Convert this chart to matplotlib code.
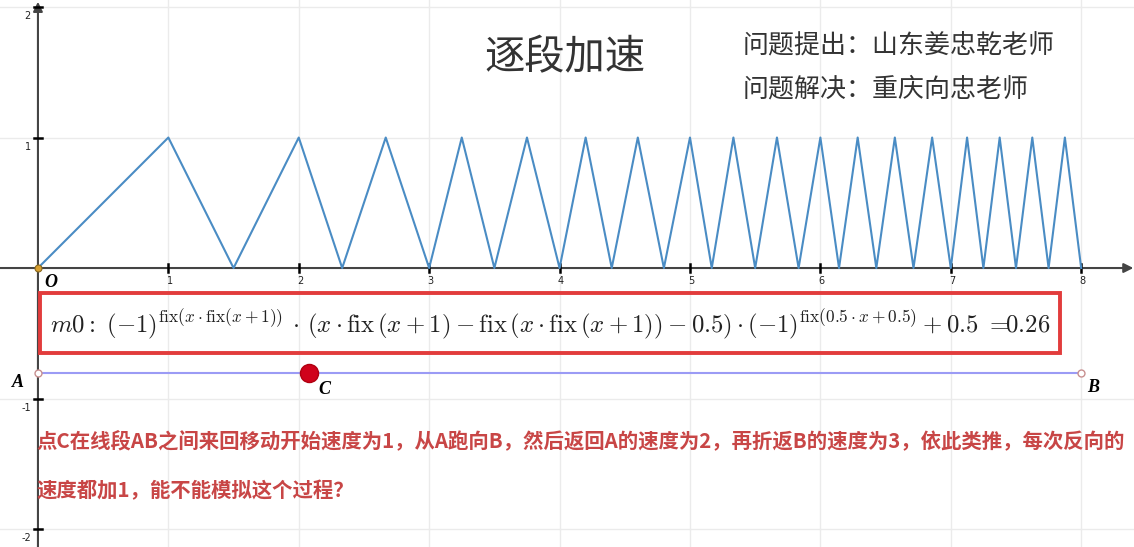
import numpy as np
import matplotlib
matplotlib.use("Agg")
import matplotlib.pyplot as plt
from matplotlib.patches import Rectangle

plt.rcParams['font.family'] = ['Noto Sans CJK SC', 'DejaVu Sans']
plt.rcParams['mathtext.fontset'] = 'cm'

# vertices of the zig-zag: C bouncing between 0 and 1, speed +1 each leg
wave_x = [0, 1, 1.5, 2, 2.333, 2.667, 3, 3.25, 3.5, 3.75, 4,
          4.2, 4.4, 4.6, 4.8, 5, 5.167, 5.333, 5.5, 5.667, 5.833, 6,
          6.143, 6.286, 6.429, 6.571, 6.714, 6.857, 7,
          7.125, 7.25, 7.375, 7.5, 7.625, 7.75, 7.875, 8]
wave_y = [0, 1, 0, 1, 0, 1, 0, 1, 0, 1, 0,
          1, 0, 1, 0, 1, 0, 1, 0, 1, 0, 1,
          0, 1, 0, 1, 0, 1, 0,
          1, 0, 1, 0, 1, 0, 1, 0]

x_ticks = [1, 2, 3, 4, 5, 6, 7, 8]
y_ticks = [-2, -1, 1, 2]

seg_A = (0, -0.805)
seg_B = (8, -0.805)
m0 = 0.26

title = "逐段加速"
credits = ["问题提出：山东姜忠乾老师", "问题解决：重庆向忠老师"]
question = ["点C在线段AB之间来回移动开始速度为1，从A跑向B，然后返回A的速度为2，再折返B的速度为3，依此类推，每次反向的",
            "速度都加1，能不能模拟这个过程？"]

fig = plt.figure(figsize=(11.34, 5.47), dpi=100)
ax = fig.add_axes([0, 0, 1, 1])
ax.set_xlim(-0.291, 8.405)
ax.set_ylim(-2.138, 2.054)
ax.axis('off')

# grid
for gx in x_ticks:
    ax.axvline(gx, color='#ebebeb', lw=1, zorder=0)
for gy in y_ticks:
    ax.axhline(gy, color='#ebebeb', lw=1, zorder=0)

# axes with arrows
ax.annotate('', xy=(8.400, 0), xytext=(-0.291, 0),
            arrowprops=dict(arrowstyle='-|>', color='#444444', lw=1.5,
                            mutation_scale=14, shrinkA=0, shrinkB=0), zorder=2)
ax.annotate('', xy=(0, 2.040), xytext=(0, -2.138),
            arrowprops=dict(arrowstyle='-|>', color='#444444', lw=1.5,
                            mutation_scale=14, shrinkA=0, shrinkB=0), zorder=2)

# tick marks and labels
for t in x_ticks:
    ax.plot([t, t], [-0.03, 0.03], color='black', lw=1.8, zorder=3)
    ax.text(t + 0.01, -0.10, str(t), fontsize=7, ha='center', va='center',
            color='#222222', family='DejaVu Sans')
for t in y_ticks:
    ax.plot([-0.03, 0.03], [t, t], color='black', lw=1.8, zorder=3)
    ax.text(-0.055, t - 0.07, str(t), fontsize=7, ha='right', va='center',
            color='#222222', family='DejaVu Sans')

# the curve
ax.plot(wave_x, wave_y, color='#4a8cc4', lw=1.5, zorder=4)

# origin
ax.plot(0, 0, 'o', ms=5, mfc='#d9a030', mec='#8a6a20', mew=0.8, zorder=5)
ax.text(0.05, -0.11, 'O', fontsize=13, fontweight='bold', fontstyle='italic',
        family='Liberation Serif', ha='left', va='center')

# formula box
ax.add_patch(Rectangle((0.015, -0.651), 7.822, 0.461, fill=False,
                       edgecolor='#e23c3c', lw=2.8, zorder=3))
formula = (r"$m0{:}\ (-1)^{\mathrm{fix}(x\cdot\mathrm{fix}(x+1))}\,\cdot\,"
           r"(x\cdot\mathrm{fix}\,(x+1)-\mathrm{fix}\,(x\cdot\mathrm{fix}\,(x+1))-0.5)"
           r"\cdot(-1)^{\mathrm{fix}(0.5\cdot x+0.5)}+0.5\ {=}\!\!" + f"{m0:.2f}" + r"$")
ax.text(0.09, -0.43, formula, fontsize=17.8, ha='left', va='center', color='#222222')

# segment AB with moving point C
ax.plot([seg_A[0], seg_B[0]], [seg_A[1], seg_B[1]], color='#9b9bf5', lw=1.5, zorder=3)
ax.plot([seg_A[0], seg_B[0]], [seg_A[1], seg_B[1]], 'o', ms=5, mfc='white',
        mec='#c89090', mew=1, zorder=4)
cx = seg_A[0] + m0 * (seg_B[0] - seg_A[0])
ax.plot(cx, seg_A[1], 'o', ms=13, mfc='#d0021b', mec='#b00010', zorder=5)
ax.text(-0.155, -0.88, 'A', fontsize=13, fontweight='bold', fontstyle='italic',
        family='Liberation Serif', ha='center', va='center')
ax.text(8.09, -0.915, 'B', fontsize=13, fontweight='bold', fontstyle='italic',
        family='Liberation Serif', ha='center', va='center')
ax.text(cx + 0.12, -0.93, 'C', fontsize=13, fontweight='bold', fontstyle='italic',
        family='Liberation Serif', ha='center', va='center')

# headings
ax.text(4.04, 1.61, title, fontsize=29, ha='center', va='center', color='#333333')
ax.text(5.40, 1.70, credits[0], fontsize=18.7, ha='left', va='center', color='#333333')
ax.text(5.40, 1.375, credits[1], fontsize=18.7, ha='left', va='center', color='#333333')

# problem statement
ax.text(-0.015, -1.326, question[0], fontsize=14.7, ha='left', va='center',
        color='#c84646', fontweight='bold')
ax.text(-0.015, -1.709, question[1], fontsize=14.7, ha='left', va='center',
        color='#c84646', fontweight='bold')

fig.savefig('out.png', dpi=100)
